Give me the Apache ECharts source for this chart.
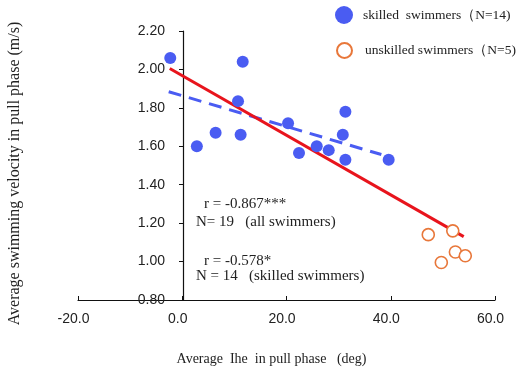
<html lang="en">
<head>
    <meta charset="UTF-8">
    <title>Ihe vs velocity</title>
    <script src="https://cdn.jsdelivr.net/npm/echarts@6/dist/echarts.min.js"></script>
</head>
<style>
    body { margin: 0; background: #fff; }
    #container { width: 519px; height: 367px; }
</style>
<body>
<div id="container"></div>
<script>
    // data
    var skilledX = [-2.3, 2.8, 6.4, 11.6, 10.7, 11.2, 20.3, 22.4, 25.8, 28.1, 31.3, 30.8, 31.3, 39.6];
    var skilledY = [2.06, 1.60, 1.67, 2.04, 1.835, 1.66, 1.72, 1.565, 1.60, 1.58, 1.78, 1.66, 1.53, 1.53];
    var unskilledX = [47.2, 51.9, 52.4, 54.3, 49.7];
    var unskilledY = [1.14, 1.16, 1.05, 1.03, 0.995];
    // regression lines (start / end points)
    var fitAllX = [-2.4, 54.0];
    var fitAllY = [2.005, 1.13];
    var fitSkilledX = [-2.6, 38.2];
    var fitSkilledY = [1.884, 1.557];

    function pairs(xs, ys) {
        var out = [];
        for (var i = 0; i < xs.length; i++) {
            out.push([xs[i], ys[i]]);
        }
        return out;
    }

    var serif = '"Liberation Serif", "Times New Roman", serif';
    var sans = '"Liberation Sans", Arial, sans-serif';
    var blue = '#4a5cf2';
    var orange = '#e8773a';

    var chart = echarts.init(document.getElementById('container'));

    var option = {
        animation: false,
        grid: { left: 78, right: 24, top: 31, bottom: 67, outerBoundsMode: 'none', containLabel: false },
        legend: [
            {
                data: ['skilled  swimmers（N=14)'],
                left: 335, top: 6, padding: 0,
                itemWidth: 18, itemHeight: 18,
                textStyle: { fontFamily: serif, fontSize: 13.5, color: '#222', padding: [0, 0, 0, 5] },
                selectedMode: false
            },
            {
                data: ['unskilled swimmers（N=5)'],
                left: 336, top: 42, padding: 0,
                itemWidth: 15, itemHeight: 15,
                textStyle: { fontFamily: serif, fontSize: 13.5, color: '#222', padding: [0, 0, 0, 8] },
                selectedMode: false
            }
        ],
        xAxis: {
            type: 'value',
            min: -20, max: 60, interval: 20,
            name: 'Average  Ihe  in pull phase   (deg)',
            nameLocation: 'middle',
            nameGap: 52,
            nameTextStyle: { fontFamily: serif, fontSize: 14, color: '#222', padding: [0, 30, 0, 0] },
            axisLine: { lineStyle: { color: '#111', width: 1.2 } },
            axisTick: { inside: true, length: 4, lineStyle: { color: '#111' } },
            axisLabel: {
                fontFamily: sans, fontSize: 14, color: '#222', margin: 12,
                padding: [0, 9, 0, 0],
                formatter: function (v) { return v.toFixed(1); }
            },
            splitLine: { show: false }
        },
        yAxis: {
            type: 'value',
            min: 0.8, max: 2.2, interval: 0.2,
            // y axis sits at x = 0, i.e. 105px right of the grid's left edge
            offset: -105,
            name: 'Average swimming velocity in pull phase (m/s)',
            nameLocation: 'middle',
            nameGap: 160,
            nameTextStyle: { fontFamily: serif, fontSize: 16, color: '#222', padding: [0, 16, 0, 0] },
            axisLine: { onZero: false, lineStyle: { color: '#111', width: 1.2 } },
            axisTick: { inside: false, length: 4, lineStyle: { color: '#111' } },
            axisLabel: {
                fontFamily: sans, fontSize: 14, color: '#222', margin: 18,
                formatter: function (v) { return v.toFixed(2); }
            },
            splitLine: { show: false }
        },
        graphic: [
            { type: 'text', left: 204, top: 197, style: { text: 'r = -0.867***', font: '15px ' + serif, fill: '#222' } },
            { type: 'text', left: 196, top: 215, style: { text: 'N= 19   (all swimmers)', font: '15px ' + serif, fill: '#222' } },
            { type: 'text', left: 204, top: 254, style: { text: 'r = -0.578*', font: '15px ' + serif, fill: '#222' } },
            { type: 'text', left: 196, top: 269, style: { text: 'N = 14   (skilled swimmers)', font: '15px ' + serif, fill: '#222' } }
        ],
        series: [
            {
                name: 'fitSkilled',
                type: 'line',
                data: pairs(fitSkilledX, fitSkilledY),
                symbol: 'none',
                lineStyle: { color: blue, width: 3, type: [13, 8] },
                z: 2
            },
            {
                name: 'fitAll',
                type: 'line',
                data: pairs(fitAllX, fitAllY),
                symbol: 'none',
                lineStyle: { color: '#e8141c', width: 3 },
                z: 3
            },
            {
                name: 'skilled  swimmers（N=14)',
                type: 'scatter',
                data: pairs(skilledX, skilledY),
                symbol: 'circle',
                symbolSize: 12,
                itemStyle: { color: blue, opacity: 1 },
                z: 4
            },
            {
                name: 'unskilled swimmers（N=5)',
                type: 'scatter',
                data: pairs(unskilledX, unskilledY),
                symbol: 'circle',
                symbolSize: 12,
                itemStyle: { color: '#fff', borderColor: orange, borderWidth: 1.6, opacity: 1 },
                z: 4
            }
        ]
    };

    chart.setOption(option);
</script>
</body>
</html>
